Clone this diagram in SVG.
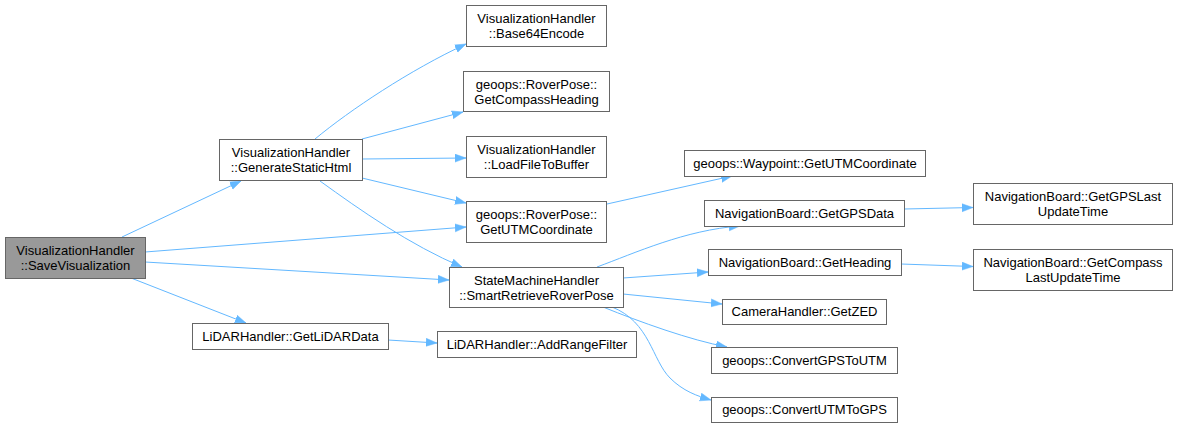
<svg xmlns="http://www.w3.org/2000/svg" width="1177" height="428" viewBox="0 0 1177 428">
<style>
.n rect{fill:#ffffff;stroke:#666666;stroke-width:1}
.n.root rect{fill:#999999}
.n text{font-family:"Liberation Sans",Arial,Helvetica,sans-serif;font-size:13px;fill:#000000;text-anchor:middle}
.e path{fill:none;stroke:#63b8ff;stroke-width:1;marker-end:url(#ah)}
</style>
<defs>
<marker id="ah" markerUnits="userSpaceOnUse" markerWidth="12" markerHeight="10" refX="11" refY="4.5" orient="auto">
<path d="M0,0.5 L11,4.5 L0,8.5 z" fill="#63b8ff" stroke="#63b8ff" stroke-width="0.5"/>
</marker>
</defs>
<rect width="1177" height="428" fill="#ffffff"/>
<g id="connectors" class="e">
<path d="M122,237 L241,181"/>
<path d="M145,252 L466,227"/>
<path d="M145,262 L449,280"/>
<path d="M131,278 L246,323"/>
<path d="M315,139 C350,110 410,70 466,44"/>
<path d="M362,139 L463,112"/>
<path d="M362,159 L466,158"/>
<path d="M362,178 L466,203"/>
<path d="M320,181 C360,210 410,245 462,267"/>
<path d="M607,204 L732,176"/>
<path d="M597,267 C635,253 685,230 740,226"/>
<path d="M623,278 L708,272"/>
<path d="M623,294 L722,304"/>
<path d="M603,307 C640,322 690,340 727,347"/>
<path d="M612,307 C650,322 652,360 670,378 C683,391 697,396 711,400"/>
<path d="M904,209 L973,207.5"/>
<path d="M901,264 L973,266.5"/>
<path d="M388,340 L437,343"/>
</g>
<g id="n0" class="n root"><rect x="5.5" y="237.5" width="140" height="41"/><text x="75.5" y="255">VisualizationHandler</text><text x="75.5" y="270">::SaveVisualization</text></g>
<g id="n1" class="n"><rect x="219.5" y="139.5" width="143" height="41"/><text x="291" y="157">VisualizationHandler</text><text x="291" y="172">::GenerateStaticHtml</text></g>
<g id="n2" class="n"><rect x="192.5" y="323.5" width="196" height="26"/><text x="290.5" y="341">LiDARHandler::GetLiDARData</text></g>
<g id="n3" class="n"><rect x="466.5" y="5.5" width="140" height="41"/><text x="536.5" y="23">VisualizationHandler</text><text x="536.5" y="38">::Base64Encode</text></g>
<g id="n4" class="n"><rect x="463.5" y="71.5" width="146" height="40"/><text x="536.5" y="88.5">geoops::RoverPose::</text><text x="536.5" y="103.5">GetCompassHeading</text></g>
<g id="n5" class="n"><rect x="466.5" y="136.5" width="140" height="41"/><text x="536.5" y="154">VisualizationHandler</text><text x="536.5" y="169">::LoadFileToBuffer</text></g>
<g id="n6" class="n"><rect x="466.5" y="201.5" width="140" height="41"/><text x="536.5" y="219">geoops::RoverPose::</text><text x="536.5" y="234">GetUTMCoordinate</text></g>
<g id="n7" class="n"><rect x="449.5" y="267.5" width="174" height="40"/><text x="536.5" y="284.5">StateMachineHandler</text><text x="536.5" y="299.5">::SmartRetrieveRoverPose</text></g>
<g id="n8" class="n"><rect x="437.5" y="331.5" width="199" height="26"/><text x="537" y="349">LiDARHandler::AddRangeFilter</text></g>
<g id="n9" class="n"><rect x="684.5" y="150.5" width="241" height="26"/><text x="805" y="167.5">geoops::Waypoint::GetUTMCoordinate</text></g>
<g id="n10" class="n"><rect x="704.5" y="200.5" width="200" height="26"/><text x="804.5" y="217.5">NavigationBoard::GetGPSData</text></g>
<g id="n11" class="n"><rect x="708.5" y="249.5" width="193" height="26"/><text x="805" y="266.5">NavigationBoard::GetHeading</text></g>
<g id="n12" class="n"><rect x="722.5" y="299.5" width="164" height="25"/><text x="804.5" y="316">CameraHandler::GetZED</text></g>
<g id="n13" class="n"><rect x="711.5" y="347.5" width="186" height="26"/><text x="804.5" y="364.5">geoops::ConvertGPSToUTM</text></g>
<g id="n14" class="n"><rect x="711.5" y="397.5" width="186" height="25"/><text x="804.5" y="414">geoops::ConvertUTMToGPS</text></g>
<g id="n15" class="n"><rect x="973.5" y="183.5" width="199" height="41"/><text x="1073" y="201">NavigationBoard::GetGPSLast</text><text x="1073" y="216">UpdateTime</text></g>
<g id="n16" class="n"><rect x="973.5" y="249.5" width="199" height="41"/><text x="1073" y="267">NavigationBoard::GetCompass</text><text x="1073" y="282">LastUpdateTime</text></g>
</svg>
